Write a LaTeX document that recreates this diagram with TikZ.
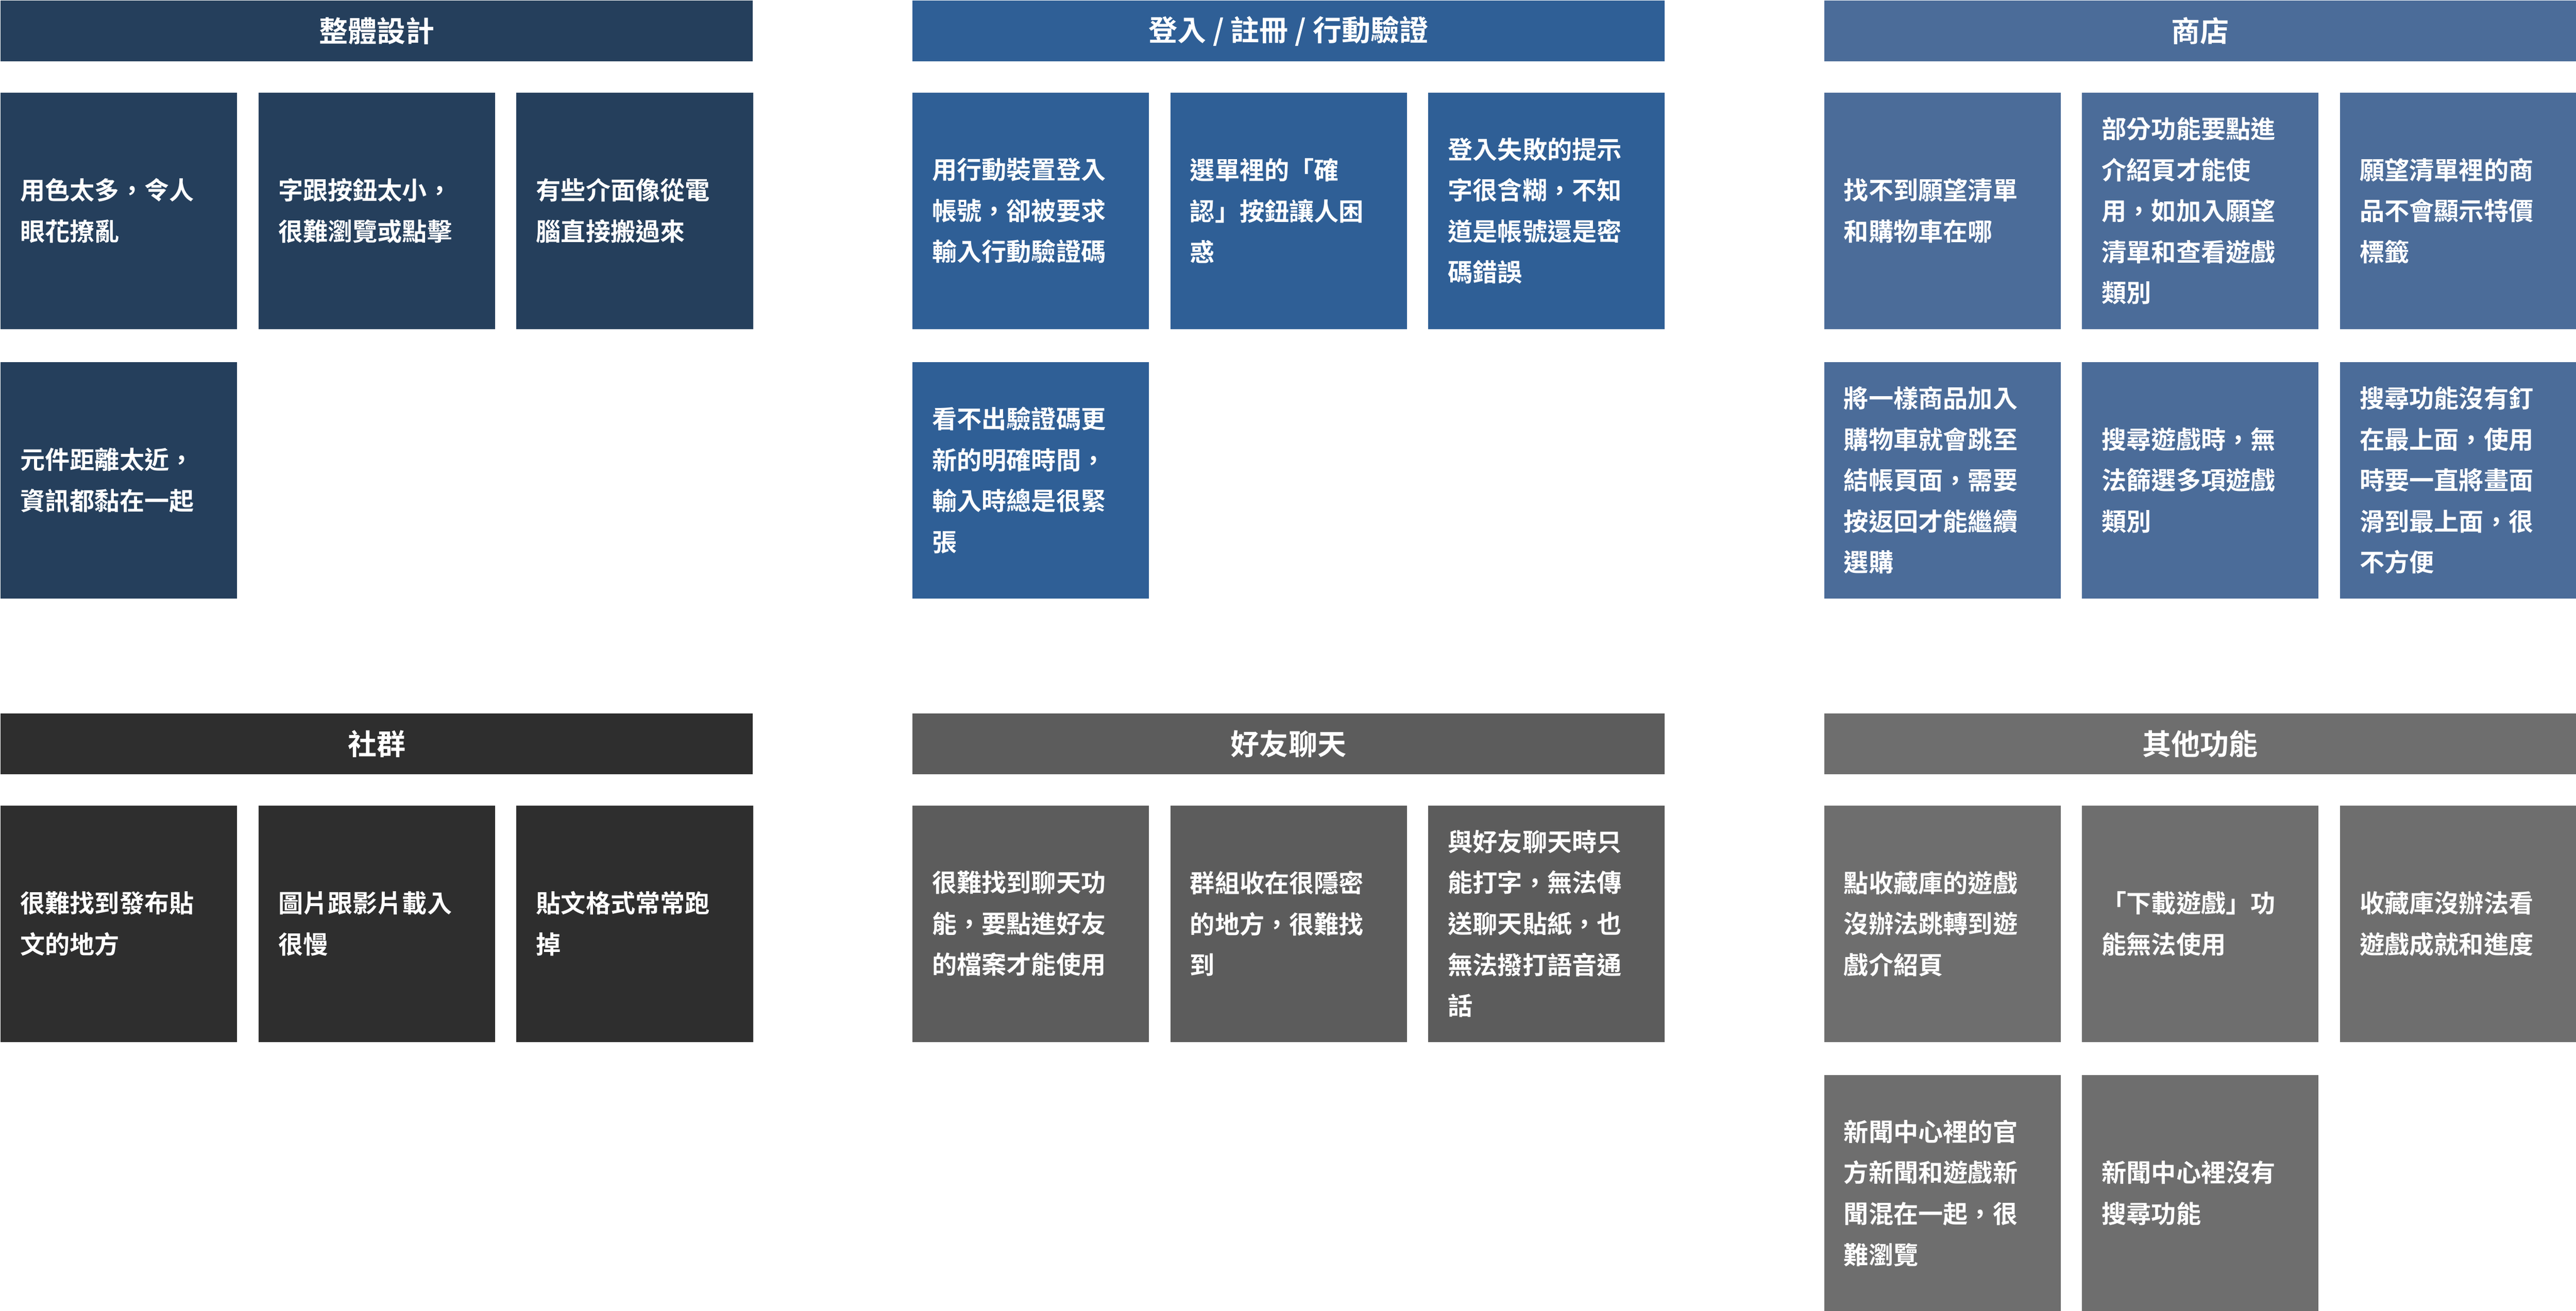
\documentclass[tikz,border=0pt]{standalone}
\usepackage{fontspec}
\setmainfont{Noto Sans CJK TC}[BoldFont={Noto Sans CJK TC Bold}]
\usepackage{xcolor}
\definecolor{cDesign}{HTML}{253F5C}
\definecolor{cLogin}{HTML}{2F5F96}
\definecolor{cShop}{HTML}{4B6C99}
\definecolor{cSocial}{HTML}{2E2E2E}
\definecolor{cChat}{HTML}{5C5C5C}
\definecolor{cOther}{HTML}{6E6E6E}
\usetikzlibrary{positioning}
\tikzset{
  head/.style={fill=#1, text=white, font=\bfseries\fontsize{10}{12}\selectfont,
    minimum width=9.16cm, minimum height=0.74cm, inner sep=0pt, anchor=north west},
  card/.style={fill=#1, text=white, font=\bfseries\fontsize{8.6}{14.2}\selectfont,
    minimum width=2.88cm, minimum height=2.88cm, text width=2.4cm, inner xsep=0.24cm,
    align=left, anchor=north west}
}
\begin{document}
\begin{tikzpicture}[x=0.02cm, y=-0.02cm]
  \useasboundingbox (0,0) rectangle (1568,798);
  % headers
  \node[head=cDesign] (hDesign) at (0,0) {整體設計};
  \node[head=cLogin]  (hLogin)  at (555,0) {登入 / 註冊 / 行動驗證};
  \node[head=cShop]   (hShop)   at (1110,0) {商店};
  \node[head=cSocial] (hSocial) at (0,434) {社群};
  \node[head=cChat]   (hChat)   at (555,434) {好友聊天};
  \node[head=cOther]  (hOther)  at (1110,434) {其他功能};

  % design
  \node[card=cDesign] (d1) at (0,56)   {用色太多，令人\\眼花撩亂};
  \node[card=cDesign] (d2) at (157,56) {字跟按鈕太小，\\很難瀏覽或點擊};
  \node[card=cDesign] (d3) at (314,56) {有些介面像從電\\腦直接搬過來};
  \node[card=cDesign] (d4) at (0,220)  {元件距離太近，\\資訊都黏在一起};

  % login
  \node[card=cLogin] (l1) at (555,56) {用行動裝置登入\\帳號，卻被要求\\輸入行動驗證碼};
  \node[card=cLogin] (l2) at (712,56) {選單裡的「確\\認」按鈕讓人困\\惑};
  \node[card=cLogin] (l3) at (869,56) {登入失敗的提示\\字很含糊，不知\\道是帳號還是密\\碼錯誤};
  \node[card=cLogin] (l4) at (555,220) {看不出驗證碼更\\新的明確時間，\\輸入時總是很緊\\張};

  % shop
  \node[card=cShop] (s1) at (1110,56) {找不到願望清單\\和購物車在哪};
  \node[card=cShop] (s2) at (1267,56) {部分功能要點進\\介紹頁才能使\\用，如加入願望\\清單和查看遊戲\\類別};
  \node[card=cShop] (s3) at (1424,56) {願望清單裡的商\\品不會顯示特價\\標籤};
  \node[card=cShop] (s4) at (1110,220) {將一樣商品加入\\購物車就會跳至\\結帳頁面，需要\\按返回才能繼續\\選購};
  \node[card=cShop] (s5) at (1267,220) {搜尋遊戲時，無\\法篩選多項遊戲\\類別};
  \node[card=cShop] (s6) at (1424,220) {搜尋功能沒有釘\\在最上面，使用\\時要一直將畫面\\滑到最上面，很\\不方便};

  % social
  \node[card=cSocial] (c1) at (0,490)   {很難找到發布貼\\文的地方};
  \node[card=cSocial] (c2) at (157,490) {圖片跟影片載入\\很慢};
  \node[card=cSocial] (c3) at (314,490) {貼文格式常常跑\\掉};

  % chat
  \node[card=cChat] (f1) at (555,490) {很難找到聊天功\\能，要點進好友\\的檔案才能使用};
  \node[card=cChat] (f2) at (712,490) {群組收在很隱密\\的地方，很難找\\到};
  \node[card=cChat] (f3) at (869,490) {與好友聊天時只\\能打字，無法傳\\送聊天貼紙，也\\無法撥打語音通\\話};

  % other
  \node[card=cOther] (o1) at (1110,490) {點收藏庫的遊戲\\沒辦法跳轉到遊\\戲介紹頁};
  \node[card=cOther] (o2) at (1267,490) {「下載遊戲」功\\能無法使用};
  \node[card=cOther] (o3) at (1424,490) {收藏庫沒辦法看\\遊戲成就和進度};
  \node[card=cOther] (o4) at (1110,654) {新聞中心裡的官\\方新聞和遊戲新\\聞混在一起，很\\難瀏覽};
  \node[card=cOther] (o5) at (1267,654) {新聞中心裡沒有\\搜尋功能};
\end{tikzpicture}
\end{document}
